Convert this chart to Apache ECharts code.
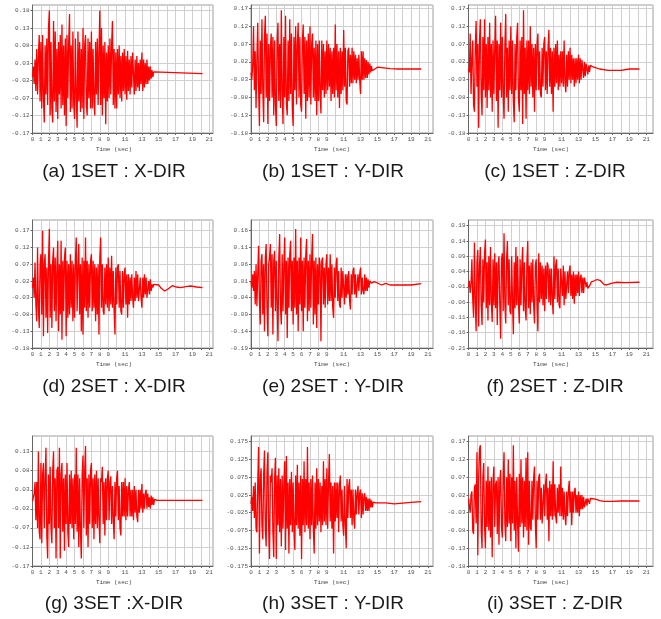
<!DOCTYPE html>
<html><head><meta charset="utf-8">
<script src="https://cdn.jsdelivr.net/npm/echarts@6/dist/echarts.min.js"></script>
<style>html,body{margin:0;padding:0;background:#fff}#c{width:661px;height:619px}</style>
</head><body><div id="c"></div>
<script>
// sampling step of the strong-motion part (sec)
const dt = 0.1;

// ---- 1SET ----
const sig1X = [
-.01,.02,-.03,.04,-.05,.07,-.06,.05,.11,-.08,
.09,-.10,.11,-.07,-.14,.08,-.06,.10,-.09,.13,
.18,-.12,.09,-.10,-.14,.15,-.08,.12,-.11,.07,
-.13,.09,-.06,.11,-.10,.14,-.09,.08,-.12,.10,
-.15,.11,-.07,.09,.17,-.11,.08,-.10,.12,-.09,
-.13,.10,-.07,-.155,.12,-.08,.09,-.11,.07,-.10,
.13,-.13,.08,.11,-.09,-.12,.10,-.07,.09,-.10,
.12,-.10,.07,-.08,-.12,.09,-.06,.10,-.09,.07,
.18,-.09,.13,-.12,.08,-.07,.09,-.145,.06,-.08,
.08,-.07,.10,-.06,.08,.15,-.09,.07,-.10,.06,
-.10,.07,-.06,.08,-.07,.05,-.08,.06,-.05,.07,
-.06,.05,-.075,.065,-.05,.04,-.06,.05,-.04,.06,
.06,-.06,.04,-.05,.05,-.04,.03,-.05,.04,-.03,
.06,-.05,.04,-.04,.03,-.03,.04,-.03,.02,-.02,
.02,-.015,.01,-.01,.005,0];
const tailT1X = [14.6, 20.2];
const tailV1X = [0, 0];

const sig1Y = [
-.01,-.03,.01,.12,-.06,.05,-.11,.03,.13,-.05,
-.16,.08,-.07,.14,-.06,-.15,.09,.15,-.08,.10,
-.155,.07,-.09,.06,.10,-.08,.09,-.13,.08,-.10,
-.16,.08,.13,-.09,.07,-.11,.165,-.07,-.155,.09,
-.08,.15,-.10,-.13,.08,-.09,.14,-.07,.10,-.11,
-.16,.09,-.06,.12,-.10,.07,.13,-.08,.09,-.10,
-.12,.08,.125,-.07,.09,-.14,.08,-.09,.10,-.08,
.12,-.10,.07,.10,-.08,.06,-.09,.08,-.13,.07,
-.09,.08,-.07,-.125,.08,-.06,.07,-.08,.05,-.07,
.08,-.06,.07,-.05,.06,-.09,.05,-.07,.06,-.08,
.125,-.06,.07,-.08,.05,-.11,.06,-.07,.05,-.06,
.11,-.05,.06,-.09,-.10,.05,.06,-.05,.04,-.04,
.06,-.04,.05,-.03,.04,-.04,.03,-.03,.04,-.03,
-.07,.05,-.03,.05,-.03,.03,-.025,.025,-.025,.02,
-.015,.015,-.01,.008,-.005,0];
const tailT1Y = [14.6, 15, 15.5, 16.5, 17.5, 20.2];
const tailV1Y = [0, .005, .004, .001, 0, 0];

const sig1Z = [
0,-.01,.10,-.07,.03,.08,-.10,-.12,.06,.135,
-.05,.07,-.165,.08,.14,-.07,-.13,.09,-.06,.14,
-.08,.07,-.11,.09,-.06,.13,-.08,.07,-.12,.08,
-.07,.06,.15,-.09,.08,-.165,.07,-.06,.13,-.08,
.09,-.07,-.14,.07,.155,-.08,.06,-.12,.08,-.06,
.12,-.07,.08,-.09,-.15,.07,-.06,.09,.13,-.08,
-.12,.08,-.06,.09,-.155,.165,-.07,.06,-.14,.08,
-.06,.08,-.07,.12,-.05,.07,-.08,.06,-.12,.07,
-.06,.07,.10,-.06,.05,-.07,-.08,.06,-.05,.07,
.09,-.06,.05,-.07,.06,.11,-.05,.06,-.07,.05,
-.12,.06,-.05,.07,-.04,.08,-.06,.04,-.05,.05,
-.04,.05,-.05,.08,-.04,-.065,.04,-.05,.05,-.03,
.06,-.04,.04,-.03,.03,-.05,.03,-.04,.03,-.03,
.04,-.04,.03,-.03,.025,.03,-.025,.02,-.02,.015,
.015,-.015,.01,-.008,.01,.01];
const tailT1Z = [14.6, 14.8, 15.5, 16.5, 18, 19, 20.2];
const tailV1Z = [.008, .005, 0, -.004, -.004, 0, 0];

// ---- 2SET ----
const sig2X = [
0,.03,-.03,.075,-.05,-.10,.12,-.06,-.12,.07,
.10,-.08,.17,-.145,.07,.10,-.09,.06,-.135,.08,
.175,-.09,.07,-.12,.08,.12,-.07,.09,-.10,.06,
.14,-.13,.07,-.08,.14,-.155,.08,-.07,.09,.12,
-.145,.08,-.09,.07,-.08,.10,-.06,.08,-.10,.07,
-.09,.08,.15,-.07,.06,.13,-.08,.07,-.13,.09,
-.14,.08,-.06,.15,-.07,.08,-.09,.07,-.06,.08,
.10,-.07,.08,-.06,.07,-.10,.06,-.08,.07,-.14,
.09,.15,-.06,.07,-.07,-.08,.06,-.05,.07,-.06,
.09,-.07,.06,-.05,.095,-.06,.05,-.07,-.14,.06,
-.05,.06,.07,-.06,.05,-.07,-.08,.05,-.06,.04,
.06,-.05,.04,-.09,.04,-.05,.03,-.04,.04,-.03,
-.06,.03,-.04,.05,-.03,.04,-.04,-.045,.03,-.03,
-.06,.03,-.03,.04,-.02,.03,-.03,-.03,.02,-.02,
.025,-.01,.01,0,.01,.015];
const tailT2X = [14.6, 15, 15.3, 15.7, 16.1, 16.6, 17.1, 17.6, 18.2, 18.8, 19.5, 20.2];
const tailV2X = [.013, .008, -.002, -.01, -.004, .006, .002, 0, .003, .005, .002, 0];

const sig2Y = [
.01,-.01,.03,-.02,.04,-.06,.06,-.065,.03,.115,
-.05,-.12,.07,.09,-.09,.06,-.14,.08,.12,-.07,
-.155,.06,.08,.12,-.07,.09,-.15,.07,.10,-.08,
.07,-.06,-.17,.08,.15,-.07,-.12,.09,-.08,.06,
.14,-.09,.07,-.16,.08,-.07,.09,.13,-.08,.07,
-.12,.08,-.07,.165,-.09,.07,-.14,.08,-.06,.14,
-.08,.07,-.14,.08,-.07,.09,.135,-.11,.07,-.08,
.09,-.07,.08,.15,-.12,.07,-.09,.08,-.13,.06,
-.06,.08,.06,-.17,.07,.08,-.06,.05,-.07,.06,
.09,-.06,.05,-.05,.09,-.05,.06,-.07,-.10,.05,
-.04,.06,.08,-.05,.04,-.06,-.07,.05,-.04,.04,
.04,-.06,.03,-.04,.03,-.03,.04,-.05,-.075,.03,
-.03,.04,.05,-.03,.03,-.04,-.04,.03,-.02,.03,
.05,-.03,.02,-.02,-.03,.03,-.02,.02,-.02,.015,
-.01,.01,.005,.003,.006,.008];
const tailT2Y = [14.6, 15, 15.5, 16, 16.5, 17, 19, 20.2];
const tailV2Y = [.008, .004, -.002, .003, -.002, -.002, -.002, .002];

const sig2Z = [
-.01,.01,-.03,0,.08,-.05,-.11,.135,-.06,-.155,
.07,.11,-.14,.06,.12,-.07,-.135,.08,-.06,.10,
.145,-.08,.07,-.12,.09,-.07,.12,-.06,-.125,.08,
-.07,.10,-.08,.07,-.135,.06,.09,-.07,-.18,.08,
.10,-.09,.165,-.07,-.13,.08,.14,-.07,.08,-.09,
-.10,.09,-.06,-.165,.07,-.08,.12,-.07,.09,-.06,
-.13,.08,-.07,.06,.12,-.09,.07,-.08,-.12,.07,
.14,-.08,.06,-.10,.07,-.06,.08,-.07,-.13,.06,
.08,-.07,-.155,.10,-.06,.07,-.05,.06,-.07,.05,
-.09,.06,-.05,.07,.06,-.06,.05,-.07,.05,-.05,
-.10,.09,-.05,.06,.08,-.06,.05,-.07,-.08,.05,
.05,-.04,.06,-.07,.04,-.05,-.05,.04,-.03,.04,
.06,-.04,.03,-.05,.04,-.065,.03,-.04,.03,-.03,
.04,-.04,.02,.03,-.03,.02,-.03,.02,.014,-.01,
.005,-.015,-.013,-.011,-.002,.006];
const tailT2Z = [14.6, 14.8, 15.2, 15.6, 16, 16.3, 17, 17.5, 18.5, 20.2];
const tailV2Z = [.008, .009, .014, .01, -.002, -.004, .002, .005, .004, .005];

// ---- 3SET ----
const sig3X = [
0,.01,.02,.05,-.05,.05,-.07,.13,-.08,-.10,
.10,-.11,.07,.10,-.07,.06,.14,-.09,-.15,.07,
-.06,.09,-.07,-.11,.08,.13,-.07,.06,-.15,.08,
.09,-.07,.14,-.15,.07,.10,-.08,.06,-.13,.07,
-.06,.10,-.08,-.12,.07,-.06,.08,-.07,.06,-.10,
.07,-.06,.14,-.08,.07,-.12,.06,-.08,-.15,.07,
.12,-.07,.08,.145,-.09,.06,-.12,.07,-.06,.08,
.10,-.07,.06,-.10,.07,-.06,.08,-.07,.06,-.05,
-.11,.06,.05,.09,-.06,.05,-.09,.06,-.05,.06,
.08,-.05,.05,.065,-.06,.04,-.05,-.10,.05,-.04,
.06,.08,-.05,.04,-.07,-.09,.05,-.04,.05,-.04,
.06,-.05,.04,-.04,.03,.05,-.04,.03,-.04,.03,
-.05,.04,-.03,.03,-.04,-.055,.03,-.03,.03,-.02,
.045,-.03,.02,-.02,.02,.03,-.02,.02,-.015,.01,
-.02,.015,-.01,.01,-.01,.005];
const tailT3X = [14.6, 14.8, 20.2];
const tailV3X = [.002, .002, .002];

const sig3Y = [
0,.02,-.02,.05,-.04,.06,-.07,-.08,.06,.16,
-.14,.07,.10,-.06,-.10,.08,.15,-.07,-.12,.09,
.145,-.07,-.155,.08,.06,.10,-.08,-.15,.07,.13,
-.155,.08,-.06,.10,-.08,.07,-.12,.08,-.07,.06,
.12,-.13,.135,-.07,.06,-.14,.07,-.06,.09,-.08,
.06,-.07,-.13,.08,-.06,.11,-.07,.06,-.09,.08,
-.155,.07,-.06,.12,-.08,.07,-.06,.16,-.07,.06,
-.10,.07,-.06,.08,-.07,-.14,.06,-.07,.10,-.06,
.07,-.05,.06,-.08,.05,-.06,.12,-.05,.07,-.06,
.10,-.07,.06,.14,-.05,.06,-.07,.05,-.14,.06,
-.05,.06,-.04,.06,-.08,.05,.08,-.05,.04,-.06,
-.09,.05,-.06,-.125,.07,-.04,.05,.07,-.04,.04,
-.06,.04,-.04,-.07,.04,-.03,.03,.05,-.03,.03,
.04,-.04,.03,-.03,.02,.03,-.02,.02,-.02,.015,
-.02,.015,-.01,.01,-.01,.005];
const tailT3Y = [14.6, 14.8, 16, 17, 18, 19, 20.2];
const tailV3Y = [.002, .003, .003, 0, .002, .004, .006];

const sig3Z = [
.01,-.01,-.03,.02,.03,-.08,-.09,.04,.05,-.06,
.14,-.15,.07,.15,.16,-.08,-.13,.07,.11,-.07,
-.13,.06,-.07,.10,-.08,.06,-.10,.07,-.155,.06,
.10,-.07,.05,.06,-.09,.07,-.12,.06,.09,-.07,
-.10,.07,.14,-.06,-.11,.07,-.07,.12,-.06,.08,
-.11,.07,-.06,.16,-.08,.06,-.13,.07,-.06,-.14,
.08,-.07,.12,-.06,.07,-.10,.06,-.07,.125,-.08,
.14,-.12,.06,-.07,-.08,.06,-.05,.07,.10,-.06,
-.13,.06,-.05,.07,.08,-.05,.04,-.06,-.06,.05,
-.04,.05,.08,-.05,.04,-.11,.06,-.04,.05,-.05,
.115,-.04,.05,-.04,-.06,.04,-.03,.05,-.04,.10,
-.04,.04,-.05,.03,-.04,-.065,.03,-.04,.03,.06,
-.03,.03,-.065,.03,-.03,.03,.04,-.03,.02,-.03,
.03,-.04,.02,-.02,.02,-.02,.015,-.015,-.02,.01,
-.01,.01,.015,-.005,.01,.005];
const tailT3Z = [14.6, 15, 15.5, 16, 17, 18, 20.2];
const tailV3Z = [.006, .008, .004, .002, .002, .003, .003];

// axis ticks (y): lowest tick, step, upper end of axis
const yMin  = [-0.17, -0.18, -0.18, -0.18, -0.19, -0.21, -0.17, -0.175, -0.18];
const yStep = [0.05, 0.05, 0.05, 0.05, 0.05, 0.05, 0.05, 0.05, 0.05];
const yMax  = [0.196, 0.18, 0.18, 0.202, 0.192, 0.2085, 0.171, 0.191, 0.186];
const yDec  = [2, 2, 2, 2, 2, 2, 2, 3, 2];
// x tick labels shown
const xLabels = [
  [0,1,2,3,4,5,6,7,8,9,11,13,15,17,19,21],
  [0,1,2,3,4,5,6,7,8,9,11,13,15,17,19,21],
  [0,1,2,3,4,5,6,7,8,9,11,13,15,17,19,21],
  [0,1,2,3,4,5,6,7,8,9,11,13,15,17,19,21],
  [0,1,2,3,4,5,6,7,8,9,11,13,15,17,19,21],
  [0,1,2,3,4,5,6,7,8,9,11,13,15,17,19,21],
  [0,1,2,3,4,5,6,7,8,9,11,13,15,17,19,21],
  [0,1,2,3,5,6,7,8,9,11,13,15,17,19,21],
  [0,1,2,3,4,5,6,7,8,9,11,13,15,17,19,21]
];
const captions = ['(a) 1SET : X-DIR','(b) 1SET : Y-DIR','(c) 1SET : Z-DIR',
                  '(d) 2SET : X-DIR','(e) 2SET : Y-DIR','(f) 2SET : Z-DIR',
                  '(g) 3SET :X-DIR','(h) 3SET : Y-DIR','(i) 3SET : Z-DIR'];
const xTitle = 'Time (sec)';

const sigs  = [sig1X, sig1Y, sig1Z, sig2X, sig2Y, sig2Z, sig3X, sig3Y, sig3Z];
const tailsT = [tailT1X, tailT1Y, tailT1Z, tailT2X, tailT2Y, tailT2Z, tailT3X, tailT3Y, tailT3Z];
const tailsV = [tailV1X, tailV1Y, tailV1Z, tailV2X, tailV2Y, tailV2Z, tailV3X, tailV3Y, tailV3Z];

// ---- layout ----
const colL = [32.5, 251, 468.5], colR = [213, 433, 653];
const xMax = [21.45, 21.6, 21.8];
const rowT = [5, 220, 436], rowB = [133, 348, 566];
const capX = [114, 333, 555], capY = [172, 387, 604];
const timeX = [114, 332, 551], timeY = [149, 364, 582];
const mono = '"Liberation Mono", "DejaVu Sans Mono", monospace';

const grid = [], xAxis = [], yAxis = [], series = [], graphic = [];
for (let k = 0; k < 9; k++) {
  const r = Math.floor(k / 3), c = k % 3;
  grid.push({left: colL[c], top: rowT[r], width: colR[c] - colL[c], height: rowB[r] - rowT[r],
    show: true, borderColor: '#9a9a9a', borderWidth: 1, containLabel: false});
  const shown = xLabels[k];
  xAxis.push({gridIndex: k, type: 'value', min: 0, max: xMax[c], interval: 1,
    axisLine: {onZero: false, lineStyle: {color: '#666', width: 1}},
    axisTick: {show: true, length: 2, lineStyle: {color: '#666'}},
    splitLine: {show: true, lineStyle: {color: '#cfcfcf', width: 1}},
    axisLabel: {margin: 3, fontFamily: mono, fontSize: 6, color: '#555', showMaxLabel: false,
      formatter: v => shown.indexOf(Math.round(v)) >= 0 && Math.abs(v - Math.round(v)) < 1e-6 ? String(Math.round(v)) : ''}
  });
  const dec = yDec[k];
  yAxis.push({gridIndex: k, type: 'value', min: yMin[k], max: yMax[k], interval: yStep[k],
    axisLine: {show: true, onZero: false, lineStyle: {color: '#666', width: 1}},
    axisTick: {show: true, length: 2, lineStyle: {color: '#666'}},
    splitLine: {show: true, lineStyle: {color: '#cfcfcf', width: 1}},
    axisLabel: {margin: 3, fontFamily: mono, fontSize: 6, color: '#555', showMaxLabel: false,
      formatter: v => v.toFixed(dec)}
  });
  const data = sigs[k].map((v, i) => [+(i * dt).toFixed(2), v]);
  tailsT[k].forEach((t, i) => data.push([t, tailsV[k][i]]));
  series.push({type: 'line', xAxisIndex: k, yAxisIndex: k, data: data, showSymbol: false,
    symbol: 'none', lineStyle: {color: '#ff0000', width: 1.3}, sampling: null, animation: false});
  graphic.push({type: 'text', x: capX[c], y: capY[r], silent: true,
    style: {text: captions[k], font: '19px "Liberation Sans", Arial, sans-serif', fill: '#1a1a1a',
      align: 'center', verticalAlign: 'middle', textAlign: 'center', textVerticalAlign: 'middle'}});
  graphic.push({type: 'text', x: timeX[c], y: timeY[r], silent: true,
    style: {text: xTitle, font: '6px ' + mono, fill: '#444',
      align: 'center', verticalAlign: 'middle', textAlign: 'center', textVerticalAlign: 'middle'}});
}

const chart = echarts.init(document.getElementById('c'), null, {renderer: 'canvas'});
chart.setOption({animation: false, backgroundColor: '#fff', grid, xAxis, yAxis, series, graphic});
</script></body></html>
